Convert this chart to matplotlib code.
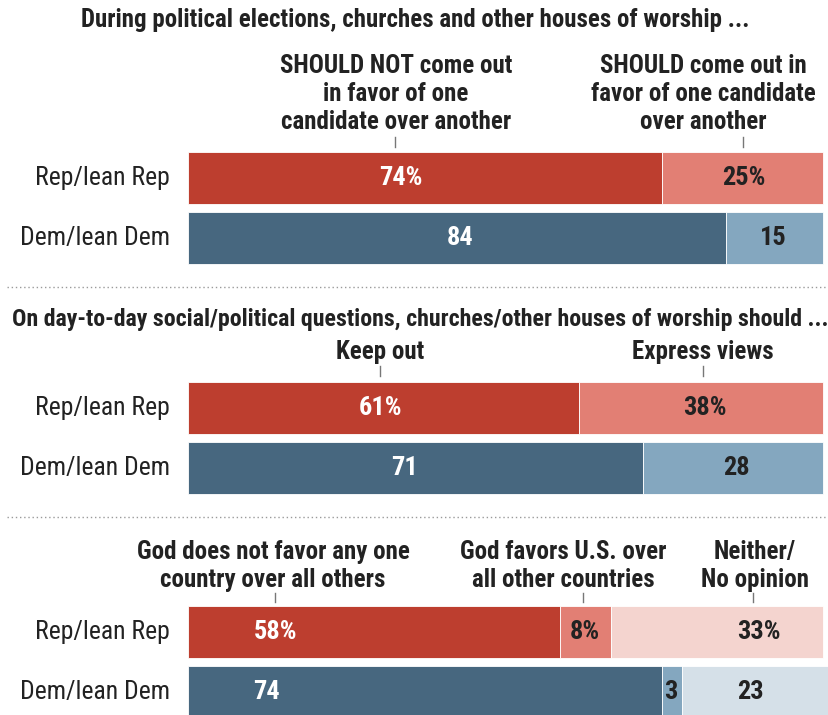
import matplotlib
matplotlib.use('Agg')
import matplotlib.pyplot as plt
from matplotlib.lines import Line2D

plt.rcParams['font.family'] = ['Roboto Condensed', 'Roboto', 'DejaVu Sans']

groups = ['Rep/lean Rep', 'Dem/lean Dem']

# Q1: during elections
q1_should_not = [74, 84]
q1_should = [25, 15]
# Q2: day-to-day questions
q2_keep_out = [61, 71]
q2_express = [38, 28]
# Q3: does God favor the U.S.
q3_not_favor = [58, 74]
q3_favor_us = [8, 3]
q3_neither = [33, 23]

red = ['#bd3e2f', '#e27f74', '#f4d4cf']
blue = ['#47677f', '#84a7bf', '#d5e0e8']

W, H = 829, 715
fig = plt.figure(figsize=(W / 100, H / 100), dpi=100)
fig.patch.set_facecolor('white')

BAR_L, BAR_W = 188, 641


def fx(x):
    return x / W


def fy(y):
    return 1 - y / H


def data_x(v):
    # percent -> pixel
    return BAR_L + v * BAR_W / 100


def text(x, y, s, **kw):
    fig.text(fx(x), fy(y), s, ha=kw.pop('ha', 'center'), va='center', **kw)


def tick(v, y0, y1):
    x = data_x(v)
    fig.add_artist(Line2D([fx(x), fx(x)], [fy(y0), fy(y1)], color='#777777', lw=1,
                          transform=fig.transFigure))


def dotted(y):
    fig.add_artist(Line2D([fx(7), fx(829)], [fy(y), fy(y)], color='#9a9a9a', lw=1,
                          linestyle=(0, (1, 2)), transform=fig.transFigure))


def panel(top, series, label_x):
    # top = pixel y of first bar centre minus 30
    ax = fig.add_axes([fx(BAR_L), fy(top + 120), BAR_W / W, 120 / H])
    ax.set_xlim(0, 100)
    ax.set_ylim(1.5, -0.5)
    ax.axis('off')
    y = [0, 1]
    for gi in range(2):
        cols = red if gi == 0 else blue
        left = 0
        for si, vals in enumerate(series):
            v = vals[gi]
            ax.barh(y[gi], v, left=left, height=0.88, color=cols[si],
                    edgecolor='white', linewidth=0.6)
            lbl = f'{v}%' if gi == 0 else f'{v}'
            tc = 'white' if si == 0 else '#222222'
            ax.text(label_x[gi][si], y[gi], lbl, ha='center', va='center',
                    color=tc, fontsize=19, fontweight='bold')
            left += v
    for gi, g in enumerate(groups):
        text(170, top + 30 + 60 * gi, g, ha='right', fontsize=18.5, color='#222222')
    return ax


hdr = dict(fontsize=18, fontweight='bold', color='#222222', linespacing=1.2)

# Panel 1
text(415, 20, 'During political elections, churches and other houses of worship ...',
     **dict(hdr, fontsize=17.9))
text(396, 94, 'SHOULD NOT come out\nin favor of one\ncandidate over another', **hdr)
text(703, 94, 'SHOULD come out in\nfavor of one candidate\nover another', **hdr)
tick(32.3, 137, 147)
tick(86.6, 137, 147)
panel(148, [q1_should_not, q1_should], [[33.2, 86.7], [42.4, 91.3]])
dotted(287)

# Panel 2
text(420, 320, 'On day-to-day social/political questions, churches/other houses of worship should ...',
     **dict(hdr, fontsize=17.2))
text(380, 352, 'Keep out', **hdr)
text(703, 352, 'Express views', **hdr)
tick(29.9, 366, 376)
tick(80.3, 366, 376)
panel(378, [q2_keep_out, q2_express], [[30.0, 80.7], [33.7, 85.6]])
dotted(517)

# Panel 3
text(273, 566, 'God does not favor any one\ncountry over all others', **hdr)
text(563, 566, 'God favors U.S. over\nall other countries', **hdr)
text(755, 566, 'Neither/\nNo opinion', **hdr)
tick(13.6, 593, 602)
tick(61.6, 593, 602)
tick(88.1, 593, 602)
panel(602, [q3_not_favor, q3_favor_us, q3_neither], [[13.7, 61.9, 89.1], [12.3, 75.3, 87.8]])

fig.savefig('out.png', dpi=100)
